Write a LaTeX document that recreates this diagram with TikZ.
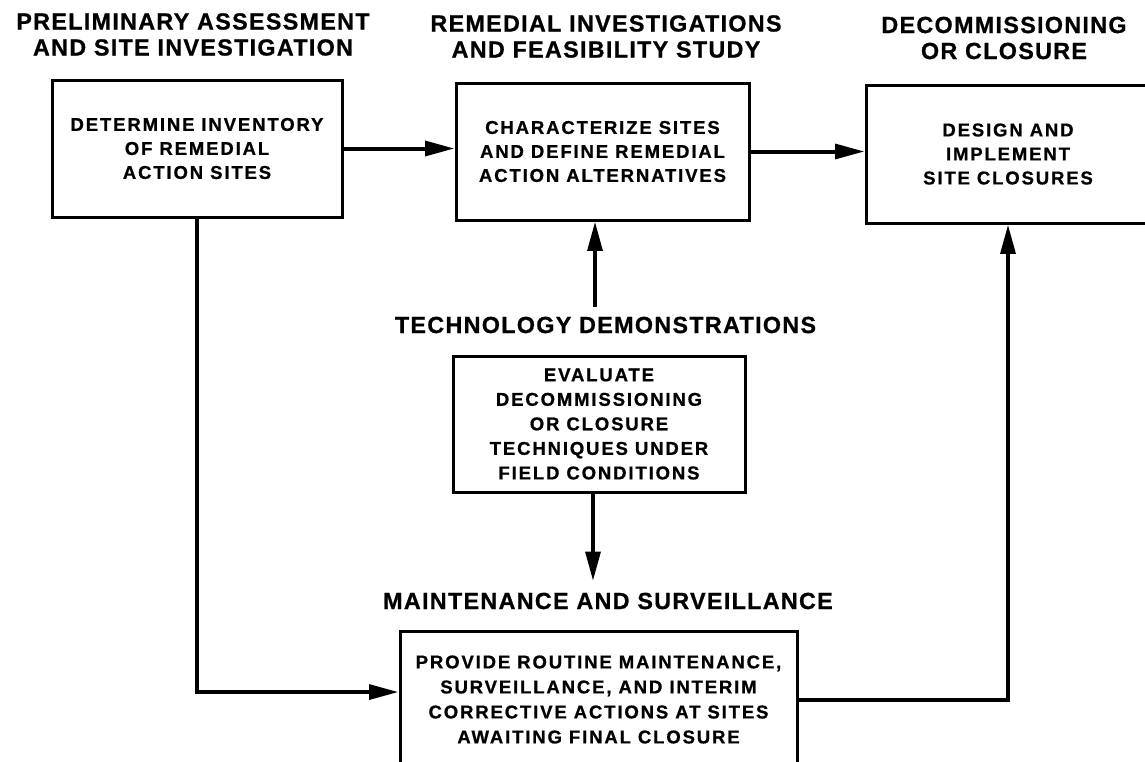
\documentclass[tikz,border=0pt]{standalone}
\usepackage{fontspec}
\newfontfamily\ttlfont{Liberation Sans}[LetterSpace=5.6,FakeBold=0.8]
\newfontfamily\bxfont{Liberation Sans}[LetterSpace=10,FakeBold=0.8]
\usetikzlibrary{arrows.meta}
\begin{document}
\begin{tikzpicture}[x=0.75pt,y=-0.75pt,
  ttl/.style={inner sep=0pt,align=center,font=\ttlfont\bfseries\fontsize{17.5}{19.5}\selectfont},
  boxnode/.style={draw,line width=2.25pt,inner sep=0pt,align=center,minimum height=102.75pt,
     font=\bxfont\bfseries\fontsize{13.9}{18}\selectfont},
  arr/.style={line width=3pt,-{Triangle[length=22pt,width=11pt]}}]
\useasboundingbox (0,0) rectangle (1145,761);
\clip (0,0) rectangle (1145,761);
\fill[white] (0,0) rectangle (1145,761);

% titles
\node[ttl] (t1) at (193,34.5) {PRELIMINARY ASSESSMENT\\AND SITE INVESTIGATION};
\node[ttl] (t2) at (606,36.5) {REMEDIAL INVESTIGATIONS\\AND FEASIBILITY STUDY};
\node[ttl] (t3) at (1004,38) {DECOMMISSIONING\\OR CLOSURE};
\node[ttl] (t4) at (605.5,325) {TECHNOLOGY DEMONSTRATIONS};
\node[ttl] (t5) at (608,601) {MAINTENANCE AND SURVEILLANCE};

% boxes
\node[boxnode,minimum width=217.5pt] (b1) at (197,148.5)
  {DETERMINE INVENTORY\\OF REMEDIAL\\ACTION SITES};
\node[boxnode,minimum width=219.75pt] (b2) at (602.5,151.5)
  {CHARACTERIZE SITES\\AND DEFINE REMEDIAL\\ACTION ALTERNATIVES};
\node[boxnode,minimum width=213pt,minimum height=103.5pt] (b3) at (1008,154)
  {DESIGN AND\\IMPLEMENT\\SITE CLOSURES};
\node[boxnode,minimum width=219pt,minimum height=102pt,font=\bxfont\bfseries\fontsize{13.9}{18.4}\selectfont] (bm) at (599,424)
  {EVALUATE\\DECOMMISSIONING\\OR CLOSURE\\TECHNIQUES UNDER\\FIELD CONDITIONS};
\node[boxnode,minimum width=297.75pt,font=\bxfont\bfseries\fontsize{13.9}{18.75}\selectfont] (bb) at (598.5,699.5)
  {PROVIDE ROUTINE MAINTENANCE,\\SURVEILLANCE, AND INTERIM\\CORRECTIVE ACTIONS AT SITES\\AWAITING FINAL CLOSURE};

% connectors
\coordinate (up) at (595,307);
\coordinate (dn) at (593,581);
\draw[arr] (b1.east) -- (b1.east -| b2.west);
\draw[arr] (b2.east) -- (b2.east -| b3.west);
\draw[arr] (up) -- (up |- b2.south);
\draw[arr] (bm.south -| dn) -- (dn);
\draw[arr] (b1.south) |- ([yshift=5.6pt]bb.west);
\draw[arr] (bb.east) -| (b3.south);
\end{tikzpicture}
\end{document}
